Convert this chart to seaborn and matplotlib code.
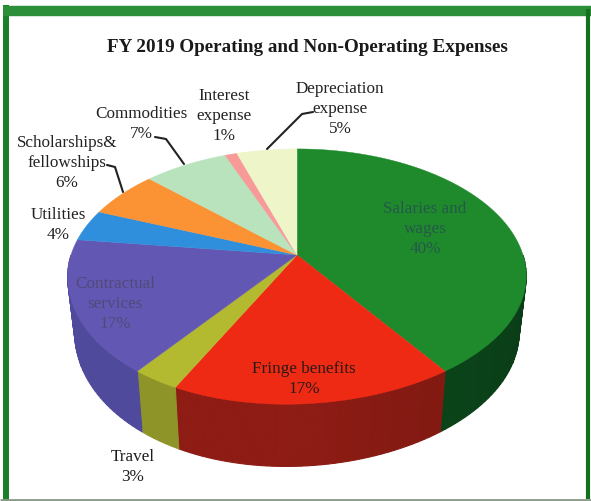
import numpy as np
import matplotlib
matplotlib.use("Agg")
import matplotlib.pyplot as plt
from matplotlib.colors import to_rgb
import seaborn as sns

sns.set_theme(style="white")
plt.rcParams["font.family"] = ["Liberation Serif", "DejaVu Serif"]

# Share of FY 2019 expenses, clockwise from twelve o'clock
categories = ["Salaries and\nwages", "Fringe benefits", "Travel", "Contractual\nservices",
              "Utilities", "Scholarships &\nfellowships", "Commodities",
              "Interest\nexpense", "Depreciation\nexpense"]
shares = [40, 17, 3, 17, 4, 6, 7, 1, 5]
top_colors = ["#1f8a2c", "#ee2a14", "#b4ba30", "#6357b4", "#2f8fdc", "#fb9233",
              "#b9e3bd", "#f79a98", "#eef5c9"]
side_colors = ["#0c4a1c", "#8e1c14", "#8e9428", "#4f4a9c", "#1f6aa8", "#b86a20",
               "#8fb090", "#b87070", "#b8bd98"]
label_colors = ["#24594a", "#2b1a14", "#1c1c1c", "#504a78", "#222222", "#222222",
                "#222222", "#222222", "#222222"]
palette = sns.color_palette(top_colors)

# Perspective disc: top face and base, both seen from the same viewpoint
CX, TOP_CY, BASE_CY = 297.0, 256.0, 311.0
TILT = 0.169
SKEW = 11.0
TOP_RX, TOP_RY = 226.0, 124.0
BASE_RX, BASE_RY = 219.0, 130.0


def project(theta, cy, rx, ry):
    u, v = np.sin(theta), -np.cos(theta)
    d = 1 - TILT * v
    return CX + rx * u / d - SKEW * np.clip(v, 0, 1) ** 3, cy + ry * v / d


fig = plt.figure(figsize=(5.91, 5.02), dpi=100, facecolor="white")
ax = fig.add_axes([0, 0, 1, 1])
ax.set_xlim(0, 591)
ax.set_ylim(502, 0)
ax.axis("off")

fractions = np.cumsum([0] + shares) / sum(shares)
edges = 2 * np.pi * fractions

# Side wall, cut into short strips so the shading can drift along the rim
for i in range(len(shares)):
    start, end = edges[i], edges[i + 1]
    if start >= 1.5 * np.pi or end <= 0.5 * np.pi:
        continue
    lo, hi = max(start, 0.5 * np.pi), min(end, 1.5 * np.pi)
    steps = np.linspace(lo, hi, max(4, int((hi - lo) * 40)))
    base = np.array(to_rgb(side_colors[i]))
    for a, b in zip(steps[:-1], steps[1:]):
        mid = 0.5 * (a + b)
        shade = 1.0 - 0.22 * np.clip((np.pi - mid) / (0.5 * np.pi), 0, 1)
        color = base * shade
        xs_t, ys_t = project(np.array([a, b]), TOP_CY, TOP_RX, TOP_RY)
        xs_b, ys_b = project(np.array([b, a]), BASE_CY, BASE_RX, BASE_RY)
        ax.fill(np.r_[xs_t, xs_b], np.r_[ys_t, ys_b], fc=color, ec=color, lw=0.8, zorder=2)

# Top face wedges
for i in range(len(shares)):
    theta = np.linspace(edges[i], edges[i + 1], 80)
    xs, ys = project(theta, TOP_CY, TOP_RX, TOP_RY)
    ax.fill(np.r_[CX, xs], np.r_[TOP_CY, ys], color=palette[i], lw=0.3,
            ec=palette[i], zorder=3)

# Labels: (x, y) centre of each block of text
label_pos = [(425, 229), (304, 379), (133, 467), (115, 304), (58, 225), (67, 163),
             (141, 124), (224, 116), (340, 109)]
for i, (name, share, pos) in enumerate(zip(categories, shares, label_pos)):
    name = name.replace("Scholarships &", "Scholarships&")
    ax.text(pos[0], pos[1], f"{name}\n{share}%", ha="center", va="center",
            fontsize=12.3, color=label_colors[i], linespacing=1.35, zorder=5)

# Leader lines from outside labels to their wedges
leaders = {5: [(107, 166), (115, 168), (123, 193)],
           6: [(155, 138), (166, 140), (184, 165)],
           8: [(313, 113), (302, 115), (267, 150)]}
for i, pts in leaders.items():
    ax.plot(*zip(*pts), color="#222222", lw=1.5, zorder=5, solid_capstyle="round")

ax.text(307, 47, "FY 2019 Operating and Non-Operating Expenses", ha="center", va="center",
        fontsize=13.8, fontweight="bold", color="#1a1a1a", zorder=5)

# Green frame around the panel
ax.plot([6, 6], [502, 6], color="#1a7f28", lw=4.3, zorder=6, solid_capstyle="butt")
ax.plot([3, 591], [11.5, 11.5], color="#2a8f38", lw=7.5, zorder=6, solid_capstyle="butt")
ax.plot([588, 588], [10, 500], color="#12701f", lw=3, zorder=6, solid_capstyle="butt")
ax.plot([0, 591], [500.5, 500.5], color="#8a9a8a", lw=2, zorder=7, solid_capstyle="butt")

fig.savefig("out.png", dpi=100, facecolor="white")
